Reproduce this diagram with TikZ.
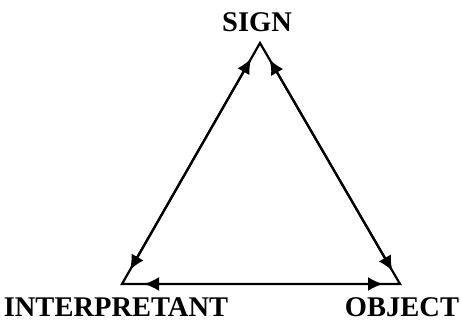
\documentclass[tikz,border=0pt]{standalone}
\usepackage{fontspec}
\setmainfont{Liberation Serif}
\usetikzlibrary{arrows.meta}

\begin{document}
\begin{tikzpicture}[x=1pt, y=1pt, >={Latex[length=15pt,width=14pt]}, line width=2.2pt]
    \tikzset{corner/.style={font=\fontsize{28.5}{31}\selectfont\bfseries, inner sep=0pt, anchor=base}}
    \useasboundingbox (0,0) rectangle (461,323);
    \coordinate (s) at (260, 280);
    \coordinate (l) at (122, 39);
    \coordinate (r) at (400, 39);
    \node[corner] (sign)   at (257, 291) {SIGN};
    \node[corner] (interp) at (116, 6)   {INTERPRETANT};
    \node[corner] (object) at (402, 6)   {OBJECT};
    
    \draw[line join=miter] (s) -- (l) -- (r) -- cycle;
    
    \draw[<->, shorten <=16pt, shorten >=18pt] (l) -- (s);
    \draw[<->, shorten <=15pt, shorten >=19pt] (r) -- (s);
    \draw[<->, shorten <=22pt, shorten >=17pt] (l) -- (r);
\end{tikzpicture}
\end{document}
